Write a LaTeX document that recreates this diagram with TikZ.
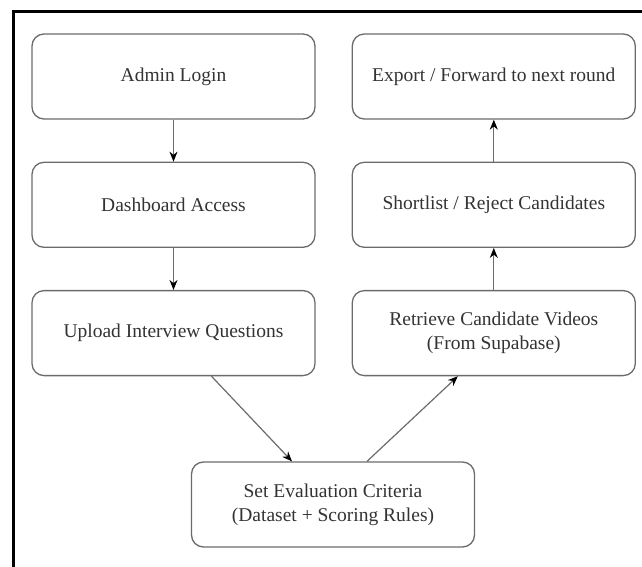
\documentclass[tikz,border=0pt]{standalone}
\usepackage{fontspec}
\setmainfont{Liberation Serif}
\usepackage{tikz}
\usetikzlibrary{arrows.meta,positioning,calc}
\definecolor{clrBorders}{rgb}{0,0,0}
\definecolor{clrBox}{gray}{0.42}
\definecolor{clrText}{gray}{0.2}
\tikzstyle{box_style}=[draw=clrBox, line width=1.3pt, rounded corners=12pt,
anchor=center, text centered, align=center, text=clrText]
\tikzstyle{flowbox}=[box_style, minimum width=283pt, minimum height=85pt,
font=\fontsize{19.5}{24}\selectfont]
\tikzstyle{myarrow}=[-{Stealth[length=10pt,width=8pt,color=black]}, draw=clrBox, line width=1.2pt]

\begin{document}
\begin{tikzpicture}[x=1pt, y=-1pt, node distance=42pt and 36pt]
		\useasboundingbox (0,0) rectangle (642,567) ;
		\draw[clrBorders, line width=3pt] (13,567) -- (13,12) -- (642,12) ;

		% left column, going down
		\node[flowbox] (admin) at (173.5,76.5) {Admin Login} ;

		\node[flowbox, below=of admin] (dash) {Dashboard Access} ;
		\draw[myarrow] (admin) -- (dash) ;

		\node[flowbox, below=of dash] (upload) {Upload Interview Questions} ;
		\draw[myarrow] (dash) -- (upload) ;

		% bottom
		\node[flowbox] (eval) at (333,504.5) {Set Evaluation Criteria\\(Dataset + Scoring Rules)} ;
		\draw[myarrow] ([xshift=38pt]upload.south) -- ([xshift=-41pt]eval.north) ;

		% right column, going up
		\node[flowbox, right=of admin] (export) {Export / Forward to next round} ;

		\node[flowbox, below=of export] (short) {Shortlist / Reject Candidates} ;
		\draw[myarrow] (short) -- (export) ;

		\node[flowbox, below=of short] (retrieve) {Retrieve Candidate Videos\\(From Supabase)} ;
		\draw[myarrow] (retrieve) -- (short) ;
		\draw[myarrow] ([xshift=34pt]eval.north) -- ([xshift=-36pt]retrieve.south) ;

	\end{tikzpicture}
\end{document}
